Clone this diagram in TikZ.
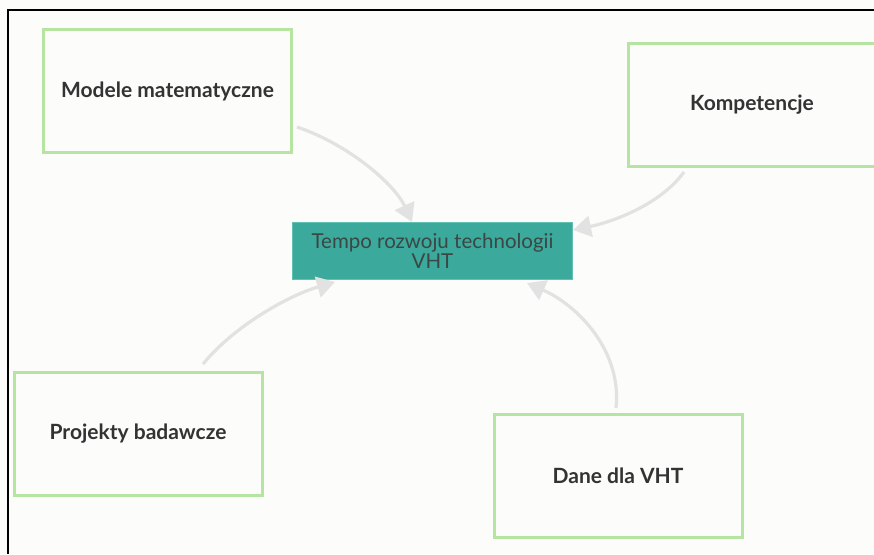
\documentclass[tikz,border=0pt]{standalone}
\usepackage{fontspec}
\setmainfont{Lato}
\usetikzlibrary{arrows.meta}
\definecolor{bgc}{HTML}{FCFCFA}
\definecolor{boxgreen}{HTML}{B6E5A2}
\definecolor{teal}{HTML}{3BA99B}
\definecolor{tealedge}{HTML}{62C0B3}
\definecolor{conn}{HTML}{E2E2E2}
\definecolor{txt}{HTML}{333333}
\definecolor{ctxt}{HTML}{3A4745}
\tikzset{
  leaf/.style={draw=boxgreen, line width=3pt, fill=bgc, minimum width=248pt, minimum height=123pt,
    inner sep=0pt, text=txt, font=\fontsize{21}{24}\selectfont\bfseries},
  hub/.style={draw=tealedge, line width=1pt, fill=teal, minimum width=280pt, minimum height=57pt,
    inner sep=0pt, text=ctxt, align=center, font=\fontsize{20.5}{20.5}\selectfont},
  link/.style={draw=conn, line width=3.2pt, -{Triangle[length=18pt,width=21pt]}},
}
\begin{document}
\begin{tikzpicture}[x=1pt,y=-1pt]
\useasboundingbox (0,0) rectangle (874,554);
\fill[bgc] (0,0) rectangle (874,554);
\draw[black, line width=1.3pt] (874,10) -- (8,10) -- (8,554);

\node[leaf] (mod) at (167.5,91) {Modele matematyczne};
\node[leaf] (kom) at (752,104.5) {Kompetencje};
\node[leaf] (pro) at (138,433.5) {Projekty badawcze};
\node[leaf] (dan) at (618,475.5) {Dane dla VHT};
\node[hub] (hub) at (432.5,251) {Tempo rozwoju technologii\\VHT};

\coordinate (s1) at (297,127);
\coordinate (t1) at (412,222);
\coordinate (s2) at (684,172);
\coordinate (t2) at (573,230);
\coordinate (s3) at (203,364);
\coordinate (t3) at (335,282);
\coordinate (s4) at (616,408);
\coordinate (t4) at (527,283);

\draw[link] (s1) .. controls (350,145) and (395,185) .. (t1);
\draw[link] (s2) .. controls (660,205) and (612,222) .. (t2);
\draw[link] (s3) .. controls (235,325) and (290,295) .. (t3);
\draw[link] (s4) .. controls (622,350) and (577,305) .. (t4);
\end{tikzpicture}
\end{document}
